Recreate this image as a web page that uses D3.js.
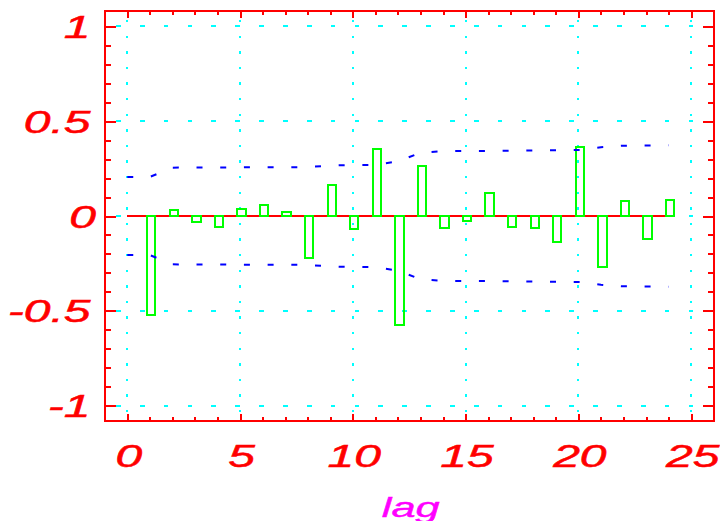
<!DOCTYPE html>
<html>
<head>
<meta charset="utf-8">
<script src="https://cdn.jsdelivr.net/npm/d3@7"></script>
<style>
  html, body { margin: 0; padding: 0; background: #fff; }
  svg { display: block; }
  text { font-family: "Liberation Sans", Arial, sans-serif; font-style: italic; }
  .crisp line, .crisp rect, line.crisp, rect.crisp { shape-rendering: crispEdges; }
</style>
</head>
<body>
<svg id="chart" width="720" height="521"></svg>
<script>
// ---- data ----
const lags = [1,2,3,4,5,6,7,8,9,10,11,12,13,14,15,16,17,18,19,20,21,22,23,24];
const acfValues = [-0.522,0.033,-0.033,-0.056,0.035,0.056,0.023,-0.220,0.162,-0.068,0.353,-0.575,
                   0.264,-0.065,-0.028,0.121,-0.060,-0.063,-0.139,0.362,-0.270,0.081,-0.120,0.084];
const bandLags = [0,1,2,3,4,5,6,7,8,9,10,11,12,13,14,15,16,17,18,19,20,21,22,23,24];
const bandValues = [0.206,0.206,0.255,0.256,0.256,0.257,0.257,0.257,0.258,0.266,0.269,0.270,0.288,
                    0.334,0.342,0.343,0.343,0.345,0.346,0.347,0.348,0.363,0.371,0.372,0.373];
const xTickValues = [0,5,10,15,20,25];
const xTickLabels = ["0","5","10","15","20","25"];
const yTickValues = [1,0.5,0,-0.5,-1];
const yTickLabels = ["1","0.5","0","-0.5","-1"];
const xTitle = "lag";

// ---- layout ----
const L = 104.7, R = 713.7, T = 11.3, B = 420.7;
const x = d3.scaleLinear().domain([-1, 26]).range([L, R]);
const y = d3.scaleLinear().domain([1.08, -1.08]).range([T, B]);
const svg = d3.select("#chart");
const RED = "#ff0000", CYAN = "#00ffff", GREEN = "#00ff00", BLUE = "#0000ff", MAG = "#ff00ff";
const sx = 1.55, fs = 31;

// grid: horizontal dashed
svg.append("g").attr("class", "crisp").selectAll("line").data(yTickValues).join("line")
  .attr("x1", L).attr("x2", R).attr("y1", d => y(d)).attr("y2", d => y(d))
  .attr("stroke", CYAN).attr("stroke-width", 2)
  .attr("stroke-dasharray", "4.7,19.16").attr("stroke-dashoffset", 12.55);
// grid: vertical dotted
svg.append("g").attr("class", "crisp").selectAll("line").data(xTickValues).join("line")
  .attr("x1", d => x(d)).attr("x2", d => x(d)).attr("y1", T).attr("y2", B)
  .attr("stroke", CYAN).attr("stroke-width", 2)
  .attr("stroke-dasharray", "2.3,13.3").attr("stroke-dashoffset", 6.9);

// zero line
svg.append("line").attr("class", "crisp")
  .attr("x1", x(0)).attr("x2", x(24)).attr("y1", y(0)).attr("y2", y(0))
  .attr("stroke", RED).attr("stroke-width", 2);

// bars
svg.append("g").attr("class", "crisp").selectAll("rect").data(lags).join("rect")
  .attr("x", d => x(d - 0.12))
  .attr("width", d => x(d + 0.25) - x(d - 0.12))
  .attr("y", (d, i) => Math.min(y(acfValues[i]), y(0)))
  .attr("height", (d, i) => Math.abs(y(acfValues[i]) - y(0)))
  .attr("fill", "none").attr("stroke", GREEN).attr("stroke-width", 2);

// confidence bands
const upper = d3.line().x((d, i) => x(bandLags[i])).y(d => y(d));
const lower = d3.line().x((d, i) => x(bandLags[i])).y(d => y(-d));
[upper, lower].forEach(gen => {
  svg.append("path").attr("d", gen(bandValues))
    .attr("fill", "none").attr("stroke", BLUE).attr("stroke-width", 2)
    .attr("stroke-dasharray", "6,17.7");
});

// frame
svg.append("rect").attr("class", "crisp").attr("x", L).attr("y", T).attr("width", R - L).attr("height", B - T)
  .attr("fill", "none").attr("stroke", RED).attr("stroke-width", 2);

// ticks via d3 axes
const xMinor = x.ticks(27).filter(v => v >= 0 && v <= 25 && !xTickValues.includes(v));
const yMinor = d3.range(-10, 11).map(v => v / 10).filter(v => !yTickValues.some(t => Math.abs(t - v) < 1e-9));
function styleAxis(g) {
  g.attr("class", "crisp");
  g.select(".domain").remove();
  g.selectAll(".tick line").attr("stroke", RED).attr("stroke-width", 2);
  g.selectAll(".tick text").remove();
}
svg.append("g").attr("transform", `translate(0,${B})`)
  .call(d3.axisBottom(x).tickValues(xTickValues).tickSize(-7).tickFormat("")).call(styleAxis);
svg.append("g").attr("transform", `translate(0,${B})`)
  .call(d3.axisBottom(x).tickValues(xMinor).tickSize(-4).tickFormat("")).call(styleAxis);
svg.append("g").attr("transform", `translate(0,${T})`)
  .call(d3.axisTop(x).tickValues(xTickValues).tickSize(-7).tickFormat("")).call(styleAxis);
svg.append("g").attr("transform", `translate(0,${T})`)
  .call(d3.axisTop(x).tickValues(xMinor).tickSize(-4).tickFormat("")).call(styleAxis);
svg.append("g").attr("transform", `translate(${L},0)`)
  .call(d3.axisLeft(y).tickValues(yTickValues).tickSize(-11).tickFormat("")).call(styleAxis);
svg.append("g").attr("transform", `translate(${L},0)`)
  .call(d3.axisLeft(y).tickValues(yMinor).tickSize(-6).tickFormat("")).call(styleAxis);
svg.append("g").attr("transform", `translate(${R},0)`)
  .call(d3.axisRight(y).tickValues(yTickValues).tickSize(-11).tickFormat("")).call(styleAxis);
svg.append("g").attr("transform", `translate(${R},0)`)
  .call(d3.axisRight(y).tickValues(yMinor).tickSize(-6).tickFormat("")).call(styleAxis);

// y tick labels
svg.append("g").selectAll("g").data(yTickValues).join("g")
  .attr("transform", d => `translate(${d === 0 ? 96 : 90.5},${y(d) + 11.5}) scale(${sx},1)`)
  .append("text").attr("text-anchor", "end").attr("font-size", fs).attr("fill", RED)
  .attr("stroke", RED).attr("stroke-width", 0.5)
  .text((d, i) => yTickLabels[i]);

// x tick labels
svg.append("g").selectAll("g").data(xTickValues).join("g")
  .attr("transform", d => `translate(${x(d) + 1.5},467) scale(${sx},1)`)
  .append("text").attr("text-anchor", "middle").attr("font-size", fs).attr("fill", RED)
  .attr("stroke", RED).attr("stroke-width", 0.5)
  .text((d, i) => xTickLabels[i]);

// x title
svg.append("g").attr("transform", `translate(${(L + R) / 2 + 1.5},517) scale(${sx},1)`)
  .append("text").attr("text-anchor", "middle").attr("font-size", 28).attr("fill", MAG)
  .attr("stroke", MAG).attr("stroke-width", 0.4)
  .text(xTitle);
</script>
</body>
</html>
